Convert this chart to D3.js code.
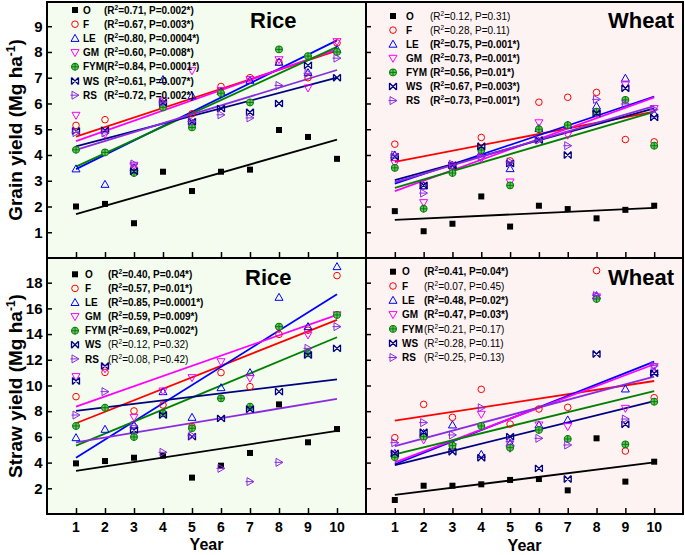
<!DOCTYPE html>
<html><head><meta charset="utf-8">
<script src="https://cdn.jsdelivr.net/npm/d3@7"></script>
<style>body{margin:0;background:#fff;} text{font-family:Arial,"Liberation Sans",sans-serif;}</style>
</head><body>
<svg id="c" width="685" height="555"></svg>
<script>
const years = [1,2,3,4,5,6,7,8,9,10];
const treatments = ["O","F","LE","GM","FYM","WS","RS"];
const colors = ["#000000","#ff0000","#0000ff","#ff00ff","#008000","#000080","#8a2be2"];
const grainTicks = [1,2,3,4,5,6,7,8,9];
const strawTicks = [2,4,6,8,10,12,14,16,18];

// Rice grain yield (rows: O, F, LE, GM, FYM, WS, RS)
const riceGrain = [
 [2.0,2.1,1.35,3.35,2.6,3.35,3.43,4.97,4.7,3.85],
 [5.15,5.37,3.5,6.0,5.6,6.66,7.0,7.6,7.0,8.35],
 [3.46,2.86,3.5,6.93,6.3,6.47,6.9,7.6,7.2,8.1],
 [5.54,4.8,3.6,6.1,7.27,6.5,6.93,7.7,6.6,8.4],
 [4.2,4.1,3.3,5.85,5.07,6.4,6.04,8.1,7.84,8.0],
 [4.93,4.96,3.37,6.03,5.29,5.8,5.66,6.0,7.48,7.0],
 [4.87,4.86,3.65,6.05,5.3,5.56,5.44,6.7,7.17,7.76]
];
const riceGrainFitStart = [1.70,4.71,3.45,4.54,3.55,4.33,4.2];
const riceGrainFitEnd   = [4.6,8.05,8.45,8.1,8.2,7.0,7.3];
const riceGrainR2 = ["0.71","0.67","0.80","0.60","0.84","0.61","0.72"];
const riceGrainP  = ["0.002*","0.003*","0.0004*","0.008*","0.0001*","0.007*","0.002*"];

// Wheat grain yield
const wheatGrain = [
 [1.82,1.04,1.33,2.39,1.22,2.03,1.9,1.54,1.87,2.03],
 [4.42,2.8,3.5,4.68,3.77,6.05,6.24,6.43,4.6,4.51],
 [4.0,2.8,3.6,4.1,3.47,5.03,5.16,5.9,6.98,5.6],
 [3.67,2.15,3.6,3.86,2.95,5.25,4.77,5.6,6.72,5.8],
 [3.5,1.91,3.3,4.19,2.82,5.0,5.16,5.68,6.14,4.36],
 [3.93,2.82,3.6,4.34,3.67,4.58,4.0,5.62,6.59,5.46],
 [4.0,2.52,3.64,3.93,3.73,4.58,4.36,6.16,5.98,5.77]
];
const wheatGrainFitStart = [1.48,3.73,2.89,2.6,2.72,3.02,2.95];
const wheatGrainFitEnd   = [1.95,5.68,6.27,6.24,5.67,5.81,5.9];
const wheatGrainR2 = ["0.12","0.28","0.75","0.73","0.56","0.67","0.73"];
const wheatGrainP  = ["0.31","0.11","0.001*","0.001*","0.01*","0.003*","0.001*"];

// Rice straw yield
const riceStraw = [
 [3.94,4.12,4.38,4.54,2.83,3.76,4.75,8.53,5.58,6.61],
 [9.13,11.02,8.02,8.48,6.8,11.0,9.91,13.98,14.3,18.55],
 [5.94,6.59,6.93,9.52,7.52,9.83,11.0,16.86,14.58,19.25],
 [10.69,11.3,7.52,9.57,10.61,11.85,10.56,14.4,13.93,15.5],
 [6.85,8.27,5.99,7.83,6.67,9.0,8.35,14.58,12.5,15.49],
 [10.35,11.52,6.54,7.7,6.02,7.44,8.15,9.52,12.37,12.89],
 [7.7,9.52,6.87,4.8,6.1,3.55,2.52,4.02,12.89,14.58]
];
const riceStrawFitStart = [3.35,7.06,4.38,8.35,5.32,8.02,5.58];
const riceStrawFitEnd   = [6.46,15.1,17.1,15.49,13.75,10.48,8.95];
const riceStrawR2 = ["0.40","0.57","0.85","0.59","0.69","0.12","0.08"];
const riceStrawP  = ["0.04*","0.01*","0.0001*","0.009*","0.002*","0.32","0.42"];

// Wheat straw yield
const wheatStraw = [
 [1.09,2.2,2.2,2.31,2.65,2.72,1.84,5.89,2.52,4.07],
 [5.94,8.53,7.52,9.7,7.0,8.17,8.3,18.94,4.9,9.05],
 [4.72,6.28,6.93,4.64,5.5,6.93,7.32,16.99,9.73,11.08],
 [4.6,5.76,5.24,7.76,5.11,6.93,6.8,16.9,8.22,11.47],
 [4.41,6.02,5.32,6.85,5.16,6.54,5.84,16.73,5.42,8.74],
 [4.72,6.36,4.85,4.38,6.02,3.55,2.72,12.45,6.98,10.95],
 [5.55,7.11,6.15,8.27,5.63,5.89,5.37,16.99,7.39,11.54]
];
const wheatStrawFitStart = [1.48,7.26,3.87,4.02,4.64,3.81,5.29];
const wheatStrawFitEnd   = [4.02,10.35,11.85,11.65,9.57,8.79,10.69];
const wheatStrawR2 = ["0.41","0.07","0.48","0.47","0.21","0.28","0.25"];
const wheatStrawP  = ["0.04*","0.45","0.02*","0.03*","0.17","0.11","0.13"];

const svg = d3.select("#c");

const panels = [
 {crop:"Rice", data:riceGrain, fs:riceGrainFitStart, fe:riceGrainFitEnd, r2:riceGrainR2, p:riceGrainP,
  x:[47,366], y:[258,2], dom:[0,9.94], ticks:grainTicks, bg:"#f4fcef", labels:true, xlabels:false,
  title:[250,28.3], leg:{sx:75, lx:83, tx:104, y0:10, dy:14.2}},
 {crop:"Wheat", data:wheatGrain, fs:wheatGrainFitStart, fe:wheatGrainFitEnd, r2:wheatGrainR2, p:wheatGrainP,
  x:[366,683], y:[258,2], dom:[0,9.94], ticks:grainTicks, bg:"#fdf3f3", labels:false, xlabels:false,
  title:[608,28.3], leg:{sx:393, lx:406, tx:430, y0:16, dy:14.1}},
 {crop:"Rice", data:riceStraw, fs:riceStrawFitStart, fe:riceStrawFitEnd, r2:riceStrawR2, p:riceStrawP,
  x:[47,366], y:[514,258], dom:[0,19.92], ticks:strawTicks, bg:"#f4fcef", labels:true, xlabels:true,
  title:[245,285], leg:{sx:75, lx:85, tx:108, y0:274.3, dy:14.1}},
 {crop:"Wheat", data:wheatStraw, fs:wheatStrawFitStart, fe:wheatStrawFitEnd, r2:wheatStrawR2, p:wheatStrawP,
  x:[366,683], y:[514,258], dom:[0,19.92], ticks:strawTicks, bg:"#fdf3f3", labels:false, xlabels:true,
  title:[608,285], leg:{sx:393, lx:402, tx:424, y0:271.7, dy:14.3}}
];

function drawSymbol(g, i, cx, cy){
  const c = colors[i];
  const s = g.append("g").attr("transform",`translate(${cx},${cy})`);
  if(i===0){ s.append("rect").attr("x",-3).attr("y",-3).attr("width",6).attr("height",6).attr("fill",c); }
  else if(i===1){ s.append("circle").attr("r",3.3).attr("fill","none").attr("stroke",c).attr("stroke-width",1); }
  else if(i===2){ s.append("path").attr("d","M0,-4L4,3L-4,3Z").attr("fill","none").attr("stroke",c).attr("stroke-width",1); }
  else if(i===3){ s.append("path").attr("d","M0,4L4,-3L-4,-3Z").attr("fill","none").attr("stroke",c).attr("stroke-width",1); }
  else if(i===4){ s.append("circle").attr("r",3.4).attr("fill","#6fbf6f").attr("stroke",c).attr("stroke-width",1.1);
    s.append("path").attr("d","M-3.4,0H3.4M0,-3.4V3.4").attr("stroke",c).attr("stroke-width",1); }
  else if(i===5){ s.append("path").attr("d","M-3.5,-3.5L3.5,3.5M-3.5,3.5L3.5,-3.5M-3.5,-3.5V3.5M3.5,-3.5V3.5")
    .attr("fill","none").attr("stroke",c).attr("stroke-width",1.3); }
  else { s.append("path").attr("d","M4,0L-3,-4L-3,4Z").attr("fill","none").attr("stroke",c).attr("stroke-width",1);
    s.append("path").attr("d","M-4.5,0H3").attr("stroke",c).attr("stroke-width",1); }
}

panels.forEach(P=>{
  const x = d3.scaleLinear().domain([0,11]).range(P.x);
  const y = d3.scaleLinear().domain(P.dom).range(P.y);
  const g = svg.append("g");
  g.append("rect").attr("x",P.x[0]).attr("y",P.y[1]).attr("width",P.x[1]-P.x[0]).attr("height",P.y[0]-P.y[1]).attr("fill",P.bg);

  const ya = g.append("g").attr("transform",`translate(${P.x[0]},0)`)
    .call(d3.axisRight(y).tickValues(P.ticks).tickSize(5).tickFormat(""));
  ya.select(".domain").remove();
  ya.selectAll("line").attr("stroke","#000").attr("stroke-width",1.5);
  const xa = g.append("g").attr("transform",`translate(0,${P.y[0]})`)
    .call(d3.axisTop(x).tickValues(years).tickSize(6).tickFormat(""));
  xa.select(".domain").remove();
  xa.selectAll("line").attr("stroke","#000").attr("stroke-width",1.5);

  if(P.labels){
    g.selectAll(".yl").data(P.ticks).enter().append("text")
      .attr("x",42.5).attr("y",d=>y(d)+5.3).attr("text-anchor","end")
      .attr("font-size",15).attr("font-weight","bold").text(d=>d);
  }
  if(P.xlabels){
    g.selectAll(".xl").data(years).enter().append("text")
      .attr("x",d=>x(d)).attr("y",532).attr("text-anchor","middle")
      .attr("font-size",14).attr("font-weight","bold").text(d=>d);
  }

  P.data.forEach((row,i)=>{
    g.append("line").attr("x1",x(1)).attr("y1",y(P.fs[i])).attr("x2",x(10)).attr("y2",y(P.fe[i]))
      .attr("stroke",colors[i]).attr("stroke-width",1.8);
  });
  P.data.forEach((row,i)=>{
    row.forEach((v,j)=> drawSymbol(g,i,x(years[j]),y(v)));
  });

  g.append("text").attr("x",P.title[0]).attr("y",P.title[1]).attr("font-size",22).attr("font-weight","bold").text(P.crop);

  const L = P.leg;
  treatments.forEach((t,i)=>{
    const cy = L.y0 + i*L.dy;
    drawSymbol(g,i,L.sx,cy);
    g.append("text").attr("x",L.lx).attr("y",cy+3.6).attr("font-size",10).attr("font-weight","bold").text(t);
    const sig = P.p[i].indexOf("*")>=0;
    const tx = g.append("text").attr("x",L.tx).attr("y",cy+3.6).attr("font-size",10).attr("font-weight",sig?"bold":"normal");
    tx.append("tspan").text("(R");
    tx.append("tspan").attr("font-size",6.5).attr("dy",-4).text("2");
    tx.append("tspan").attr("dy",4).text("="+P.r2[i]+", P="+P.p[i]+")");
  });
});

svg.append("rect").attr("x",47).attr("y",2).attr("width",636).attr("height",512).attr("fill","none").attr("stroke","#000").attr("stroke-width",2);
svg.append("line").attr("x1",366).attr("x2",366).attr("y1",2).attr("y2",514).attr("stroke","#000").attr("stroke-width",2);
svg.append("line").attr("x1",47).attr("x2",683).attr("y1",258).attr("y2",258).attr("stroke","#000").attr("stroke-width",2);

function ytitle(label, cy){
  const t = svg.append("text").attr("transform",`translate(22,${cy}) rotate(-90)`).attr("text-anchor","middle")
    .attr("font-size",19).attr("font-weight","bold");
  t.append("tspan").text(label+" (Mg ha");
  t.append("tspan").attr("font-size",12).attr("dy",-7).text("-1");
  t.append("tspan").attr("dy",7).text(")");
}
ytitle("Grain yield",130);
ytitle("Straw yield",386);
svg.append("text").attr("x",206.5).attr("y",550).attr("text-anchor","middle").attr("font-size",16).attr("font-weight","bold").text("Year");
svg.append("text").attr("x",524.5).attr("y",551).attr("text-anchor","middle").attr("font-size",16).attr("font-weight","bold").text("Year");
</script>
</body></html>
